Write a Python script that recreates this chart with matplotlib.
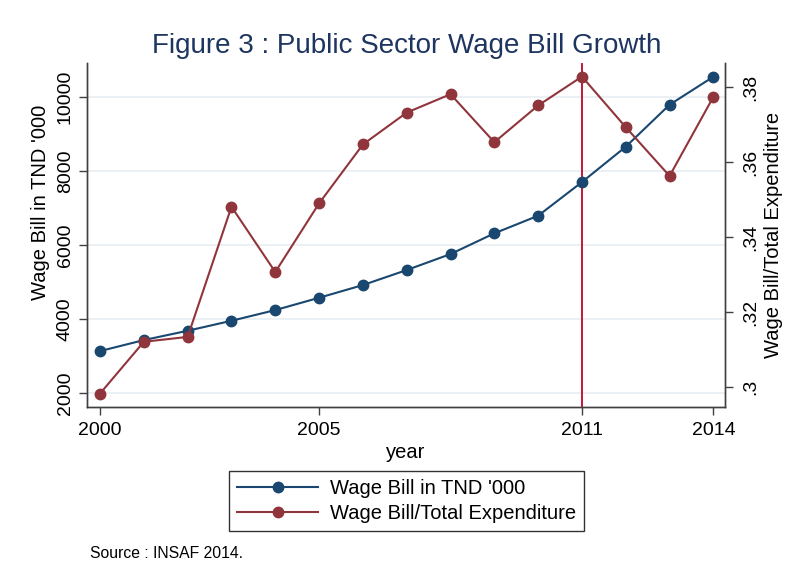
import matplotlib.pyplot as plt

plt.rcParams["font.family"] = ["Liberation Sans", "DejaVu Sans"]

# Wage bill series, 2000-2014
years = list(range(2000, 2015))
wage_bill = [3135, 3432, 3684, 3954, 4243, 4576, 4919, 5325,
             5757, 6317, 6793, 7703, 8658, 9793, 10550]
wage_share = [0.2983, 0.3121, 0.3134, 0.3481, 0.3307, 0.3490, 0.3647, 0.3732,
              0.3781, 0.3653, 0.3751, 0.3828, 0.3693, 0.3563, 0.3774]

x_ticks = [2000, 2005, 2011, 2014]
left_ticks = [2000, 4000, 6000, 8000, 10000]
right_ticks = [0.30, 0.32, 0.34, 0.36, 0.38]
right_labels = [".3", ".32", ".34", ".36", ".38"]
event_year = 2011

blue = "#1a476f"
red = "#90353b"
spine_col = "#404040"

fig = plt.figure(figsize=(7.9, 5.84), dpi=100)
ax = fig.add_axes([0.110, 0.303, 0.808, 0.589])
ax2 = ax.twinx()

l1, = ax.plot(years, wage_bill, color=blue, lw=1.5, marker="o", ms=7.5,
              label="Wage Bill in TND '000", zorder=3)
l2, = ax2.plot(years, wage_share, color=red, lw=1.5, marker="o", ms=7.5,
               label="Wage Bill/Total Expenditure", zorder=3)
ax.axvline(event_year, color="#c4153b", lw=1.4, zorder=2)

ax.set_xlim(1999.70, 2014.27)
ax.set_ylim(1622, 10919)
ax2.set_ylim(0.2947, 0.3864)

ax.set_xticks(x_ticks)
ax.set_yticks(left_ticks)
ax2.set_yticks(right_ticks)
ax2.set_yticklabels(right_labels)

ax.grid(axis="y", color="#e6eef1", lw=1.2, zorder=0)
ax.set_axisbelow(True)

for a in (ax, ax2):
    a.spines["top"].set_visible(False)
    for s in ("left", "right", "bottom"):
        a.spines[s].set_color(spine_col)
        a.spines[s].set_linewidth(1.0)
    a.tick_params(colors=spine_col, labelcolor="black", labelsize=14,
                  length=6, width=1.0)
ax.tick_params(axis="x", pad=5)
ax2.tick_params(axis="y", pad=6)

for lab in ax.get_yticklabels() + ax2.get_yticklabels():
    lab.set_rotation(90)
    lab.set_va("center")

ax.set_xlabel("year", fontsize=14.5, labelpad=3)
ax.set_ylabel("Wage Bill in TND '000", fontsize=14.5)
ax2.set_ylabel("Wage Bill/Total Expenditure", fontsize=14.5)
ax.yaxis.set_label_coords(-0.058, 0.596)
ax2.yaxis.set_label_coords(1.061, 0.50)

fig.text(0.515, 0.922, "Figure 3 : Public Sector Wage Bill Growth",
         ha="center", va="center", fontsize=20, color="#1e3560")

leg = fig.legend(handles=[l1, l2], loc="upper center",
                 bbox_to_anchor=(0.515, 0.193), fontsize=14.5,
                 frameon=True, fancybox=False, handlelength=4.0,
                 borderpad=0.4, labelspacing=0.3, handletextpad=0.6,
                 borderaxespad=0)
leg.get_frame().set_edgecolor("black")
leg.get_frame().set_linewidth(1.0)

fig.text(0.114, 0.053, "Source : INSAF 2014.", fontsize=11.3, va="center")

fig.savefig("out.png", dpi=100, facecolor="white")
